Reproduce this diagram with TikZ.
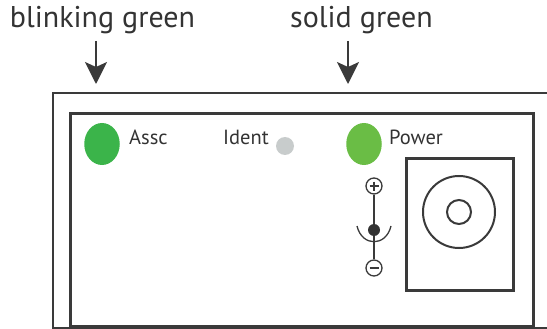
\documentclass[tikz,border=0pt]{standalone}
\usepackage{fontspec}
\setmainfont{PT Sans}
\usetikzlibrary{shapes.geometric,arrows.meta}
\definecolor{ink}{HTML}{333333}
\definecolor{line}{HTML}{3A3A3A}
\definecolor{ledA}{HTML}{3BB44A}
\definecolor{ledP}{HTML}{6ABD45}
\definecolor{ledI}{HTML}{C8CCCC}
\tikzset{
  big/.style={font=\fontsize{30}{33}\selectfont, text=ink, inner sep=0pt, anchor=base},
  small/.style={font=\fontsize{20.5}{23}\selectfont, text=ink, inner sep=0pt, anchor=base west},
  led/.style={ellipse, minimum width=35.5pt, minimum height=42pt, inner sep=0pt},
  callout/.style={line, line width=1.6pt, -{Stealth[length=22pt,width=22pt,inset=5pt]}},
  ring/.style={circle, draw=line, line width=1.3pt, inner sep=0pt},
}
\begin{document}
\begin{tikzpicture}[x=1pt,y=-1pt]
\useasboundingbox (0,0) rectangle (547,329);
% housing
\draw[line, line width=2pt] (53,93) rectangle (600,327.5);
\draw[line, line width=3pt] (70,114) rectangle (533,326.5);
% callouts
\node[big] (tb) at (102.5,28) {blinking green};
\node[big] (ts) at (361.5,28) {solid green};
\coordinate (ab) at (96,41);
\coordinate (ss) at (348,41);
\coordinate (abe) at (96,84);
\coordinate (sse) at (348,84);
\draw[callout] (ab) -- (abe);
\draw[callout] (ss) -- (sse);
% LEDs
\node[led, fill=ledA] (assc) at (102,144) {};
\node[small] (assct) at (129,145) {Assc};
\node[small] (identt) at (223,145) {Ident};
\node[circle, fill=ledI, minimum size=18pt, inner sep=0pt] (ident) at (285,146) {};
\node[led, fill=ledP] (pwr) at (364,144) {};
\node[small] (pwrt) at (389,145) {Power};
% polarity symbol
\node[ring, minimum size=16pt] (plus) at (374,186) {};
\draw[line, line width=1.3pt] (plus.center) ++(-4.5,0) -- ++(9,0) (plus.center) ++(0,-4.5) -- ++(0,9);
\node[circle, fill=ink, minimum size=12pt, inner sep=0pt] (dot) at (374,230) {};
\node[ring, minimum size=16pt] (minus) at (374,268) {};
\draw[line, line width=1.3pt] (minus.center) ++(-4.5,0) -- ++(9,0);
\draw[line, line width=1.3pt] (plus) -- (dot) -- (minus);
\coordinate (arcl) at (357,226);
\coordinate (arcr) at (391,226);
\draw[line, line width=1.3pt] (arcl) .. controls (362,247) and (386,247) .. (arcr);
% jack
\node[draw=line, line width=2.5pt, minimum width=107pt, minimum height=132pt, inner sep=0pt] (jack) at (460,224.5) {};
\node[ring, line width=2pt, minimum size=72pt] (outer) at (459,212) {};
\node[ring, line width=2pt, minimum size=24pt] (inner) at (459,212) {};
\end{tikzpicture}
\end{document}
